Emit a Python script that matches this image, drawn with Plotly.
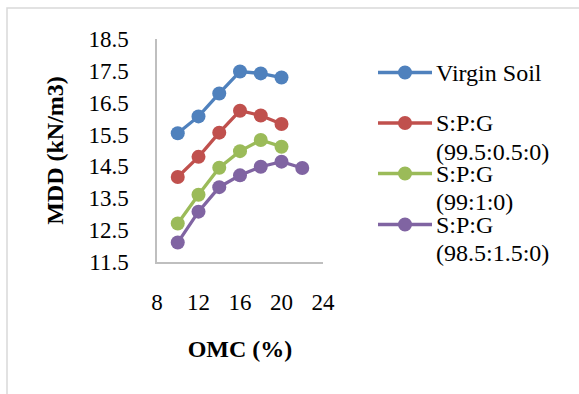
import plotly.graph_objects as go

# Optimum moisture content (%) vs maximum dry density (kN/m3)
omc_short = [10, 12, 14, 16, 18, 20]
omc_long = [10, 12, 14, 16, 18, 20, 22]

mdd_virgin = [15.54, 16.07, 16.79, 17.48, 17.42, 17.29]
mdd_995 = [14.17, 14.80, 15.56, 16.25, 16.10, 15.83]
mdd_99 = [12.71, 13.61, 14.46, 14.98, 15.33, 15.12]
mdd_985 = [12.11, 13.08, 13.85, 14.22, 14.49, 14.65, 14.45]

series_names = ["Virgin Soil", "S:P:G<br>(99.5:0.5:0)", "S:P:G<br>(99:1:0)", "S:P:G<br>(98.5:1.5:0)"]
series_colors = ["#4F81BD", "#C0504D", "#9BBB59", "#8064A2"]
series_x = [omc_short, omc_short, omc_short, omc_long]
series_y = [mdd_virgin, mdd_995, mdd_99, mdd_985]

x_ticks = [8, 12, 16, 20, 24]
y_ticks = [11.5, 12.5, 13.5, 14.5, 15.5, 16.5, 17.5, 18.5]

W, H = 579, 394
L, R, T, B = 157, 256, 39, 132
PW, PH = W - L - R, H - T - B

FONT = "Liberation Serif, Times New Roman, serif"


def px_x(p):
    return (p - L) / PW


def px_y(p):
    return (H - B - p) / PH


fig = go.Figure()
for name, color, xs, ys in zip(series_names, series_colors, series_x, series_y):
    fig.add_trace(go.Scatter(
        x=xs, y=ys, mode="lines+markers", name=name,
        line=dict(color=color, width=3.3),
        marker=dict(color=color, size=14),
        showlegend=False,
    ))

# Legend drawn beside the plot
legend_rows = [(72.5, None), (123, 151.5), (173.5, 202), (224.5, 253)]
shapes = []
annotations = []
for (name, color, (y1, y2)) in zip(series_names, series_colors, legend_rows):
    shapes.append(dict(type="line", xref="paper", yref="paper",
                       x0=px_x(378), x1=px_x(432), y0=px_y(y1), y1=px_y(y1),
                       line=dict(color=color, width=3.3)))
    r = 7
    shapes.append(dict(type="circle", xref="paper", yref="paper",
                       x0=px_x(405 - r), x1=px_x(405 + r), y0=px_y(y1 + r), y1=px_y(y1 - r),
                       fillcolor=color, line=dict(color=color, width=0)))
    parts = name.split("<br>")
    for txt, yy in zip(parts, [y1, y2]):
        annotations.append(dict(xref="paper", yref="paper", x=px_x(434), y=px_y(yy),
                                xanchor="left", yanchor="middle", text=txt, showarrow=False,
                                font=dict(family=FONT, size=24, color="#000000")))

# Outer chart frame
shapes.append(dict(type="rect", xref="paper", yref="paper",
                   x0=px_x(7), x1=px_x(W + 20), y0=px_y(H + 20), y1=px_y(8),
                   line=dict(color="#D9D9D9", width=1.5), fillcolor="rgba(0,0,0,0)", layer="below"))

fig.update_layout(
    width=W, height=H,
    margin=dict(l=L, r=R, t=T, b=B),
    paper_bgcolor="white", plot_bgcolor="white",
    font=dict(family=FONT, size=24, color="#000000"),
    shapes=shapes, annotations=annotations,
    showlegend=False,
)
fig.update_xaxes(
    range=[8, 24], tickvals=x_ticks, ticktext=[str(v) for v in x_ticks],
    showgrid=False, zeroline=False, showline=True, linecolor="#BFBFBF", linewidth=1.5,
    ticks="", ticklabelstandoff=19, tickfont=dict(size=23),
    title=dict(text="<b>OMC (%)</b>", font=dict(size=24), standoff=26),
)
fig.update_yaxes(
    range=[11.5, 18.5], tickvals=y_ticks, ticktext=[f"{v:.1f}" for v in y_ticks],
    showgrid=False, zeroline=False, showline=True, linecolor="#BFBFBF", linewidth=1.5,
    ticks="", ticklabelstandoff=22, tickfont=dict(size=23),
    title=dict(text="<b>MDD (kN/m3)</b>", font=dict(size=24), standoff=18),
)

fig.write_html("out.html")
